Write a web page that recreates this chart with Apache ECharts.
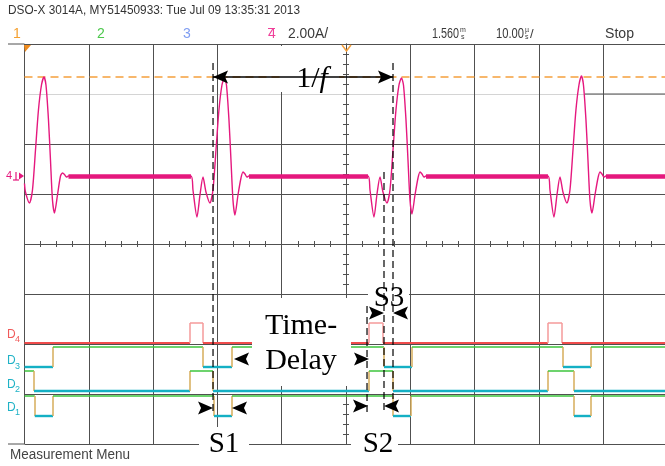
<!DOCTYPE html>
<html>
<head>
<meta charset="utf-8">
<script src="https://cdn.jsdelivr.net/npm/echarts/dist/echarts.min.js"></script>
<style>
  html, body { margin: 0; padding: 0; background: #fff; }
  #c { width: 665px; height: 466px; }
</style>
</head>
<body>
<div id="c"></div>
<script>
// ---- Scope settings: 10 us/div horizontally, channel 4 at 2.00 A/div ----
const timeRange = [-50, 50];          // us, 10 divisions
const divRange = [-4, 4];             // 8 vertical divisions
const ampsPerDiv = 2;
const ch4ZeroDiv = 1.36;              // channel 4 ground marker, divisions above centre

// ---- Channel 4 current trace (time in us, current in A) ----
const ch4Time = [
  -50.00, -49.85, -49.23, -48.76, -48.29, -47.83, -47.36, -46.97, -46.66, -46.27,
  -45.96, -45.65, -45.34, -44.87, -44.40, -44.09, -43.78, -43.47, -43.16,
  -24.11, -23.80, -23.18, -22.71, -22.24, -21.78, -21.16, -20.69, -20.22, -19.76,
  -19.29, -18.90, -18.59, -18.20, -17.89, -17.58, -17.27, -16.80, -16.33, -16.02,
  -15.71, -15.40, -15.09,
  3.42, 3.73, 4.35, 4.82, 5.29, 5.75, 6.37, 6.84, 7.31, 7.77,
  8.24, 8.63, 8.94, 9.33, 9.64, 9.95, 10.26, 10.73, 11.20, 11.51,
  11.82, 12.13, 12.44,
  31.41, 31.72, 32.34, 32.81, 33.28, 33.74, 34.36, 34.83, 35.30, 35.76,
  36.23, 36.62, 36.93, 37.32, 37.63, 37.94, 38.25, 38.72, 39.19, 39.50,
  39.81, 40.12, 40.43,
  50.00
];
const ch4Amps = [
  -0.30, -0.64, -1.08, -0.56, 1.04, 2.64, 3.64, 3.96, 3.64, 2.24,
  0.64, -0.96, -1.48, -0.76, 0.00, 0.12, 0.06, -0.04, 0.00,
  0.00, -0.56, -1.64, -0.76, -0.04, -0.64, -1.08, -0.56, 1.04, 2.64,
  3.64, 3.92, 3.64, 2.24, 0.64, -0.96, -1.56, -0.76, -0.08, 0.16,
  0.08, -0.04, 0.00,
  0.00, -0.56, -1.64, -0.72, -0.04, -0.64, -1.08, -0.56, 1.04, 2.64,
  3.64, 3.92, 3.64, 2.24, 0.64, -0.96, -1.52, -0.76, -0.08, 0.16,
  0.08, -0.04, 0.00,
  0.00, -0.56, -1.64, -0.76, -0.04, -0.64, -1.08, -0.56, 1.04, 2.64,
  3.64, 4.00, 3.64, 2.24, 0.64, -0.96, -1.48, -0.76, -0.08, 0.16,
  0.08, -0.04, 0.00,
  0.00
];
const cursorAmps = 3.96;              // horizontal cursor at the current peak

// ---- Digital gate signals: state at the left edge and edge times (us) ----
const d1Start = 1;
const d1Edges = [-48.40, -45.57, -20.53, -17.73, 7.31, 10.11, 35.46, 38.10];
const d2Start = 1;
const d2Edges = [-48.52, -24.26, -20.68, 3.58, 7.31, 31.40, 35.46];
const d3Start = 0;
const d3Edges = [-45.57, -22.24, -17.73, 5.91, 10.26, 33.75, 38.10];
const d4Start = 0;
const d4Edges = [-24.26, -22.24, 3.58, 5.75, 31.40, 33.60];

// ---- Lane placement of the digital channels (divisions) ----
const laneLow = { D1: -3.44, D2: -2.94, D3: -2.46, D4: -1.98 };
const laneHeight = 0.40;

// ---- Colours ----
const gridColor = '#505050';
const ch4Color = '#e5187e';
const cursorColor = '#f5a03c';
const hiColor = '#3cc43c';
const loColor = '#14b0c4';
const edgeColor = '#d6ad5a';
const d4Color = '#f04c4c';
const d4PulseColor = '#f59a9a';

function laneSegments(name, startState, edges, style) {
  const low = laneLow[name], high = low + laneHeight;
  const segs = [];
  let state = startState, t0 = timeRange[0];
  const stops = edges.concat([timeRange[1]]);
  stops.forEach((t, i) => {
    const lvl = state ? high : low;
    segs.push({ coords: [[t0, lvl], [t, lvl]],
      lineStyle: { color: state ? style.hi : style.lo, width: state ? style.hiW : style.loW, opacity: 1 } });
    if (i < edges.length) {
      segs.push({ coords: [[t, low], [t, high]], lineStyle: { color: style.edge, width: 1.5, opacity: 1 } });
      state = 1 - state;
    }
    t0 = t;
  });
  return segs;
}

const gateStyle = { hi: hiColor, lo: loColor, edge: edgeColor, hiW: 1.5, loW: 2.4 };
const d4Style = { hi: d4PulseColor, lo: d4Color, edge: d4PulseColor, hiW: 1.5, loW: 2.2 };
const digitalData = []
  .concat(laneSegments('D1', d1Start, d1Edges, gateStyle))
  .concat(laneSegments('D2', d2Start, d2Edges, gateStyle))
  .concat(laneSegments('D3', d3Start, d3Edges, gateStyle))
  .concat(laneSegments('D4', d4Start, d4Edges, d4Style));

const ch4Data = ch4Time.map((t, i) => [t, ch4Amps[i]]);
// flat stretches between pulses are drawn heavier (acquisition noise band)
const ch4Flat = [];
for (let i = 0; i + 1 < ch4Time.length; i++) {
  if (ch4Amps[i] === 0 && ch4Amps[i + 1] === 0 && ch4Time[i + 1] - ch4Time[i] > 1) {
    ch4Flat.push({ coords: [[ch4Time[i], 0], [ch4Time[i + 1], 0]] });
  }
}

const ampMin = (divRange[0] - ch4ZeroDiv) * ampsPerDiv;
const ampMax = (divRange[1] - ch4ZeroDiv) * ampsPerDiv;

const splitColors = [];
for (let v = divRange[0]; v <= divRange[1]; v++) splitColors.push(v === 3 ? '#d4d4d4' : gridColor);

function centerAxisX(inside) {
  return {
    type: 'value', min: timeRange[0], max: timeRange[1], interval: 2.5,
    axisLine: { show: true, onZero: true, onZeroAxisIndex: 0, lineStyle: { color: gridColor, width: 1 } },
    axisTick: { show: true, inside: inside, length: 3, lineStyle: { color: gridColor } },
    axisLabel: { show: false }, splitLine: { show: false }
  };
}
function centerAxisY(inside) {
  return {
    type: 'value', min: divRange[0], max: divRange[1], interval: 0.2,
    axisLine: { show: true, onZero: true, onZeroAxisIndex: 0, lineStyle: { color: gridColor, width: 1 } },
    axisTick: { show: true, inside: inside, length: 3, lineStyle: { color: gridColor } },
    axisLabel: { show: false }, splitLine: { show: false }
  };
}

const chart = echarts.init(document.getElementById('c'));
chart.setOption({
  animation: false,
  backgroundColor: '#ffffff',
  grid: { left: 24.5, top: 44, width: 643, height: 400, containLabel: false, outerBoundsMode: 'none' },
  xAxis: [
    { type: 'value', min: timeRange[0], max: timeRange[1], interval: 10,
      axisLine: { show: false }, axisTick: { show: false }, axisLabel: { show: false },
      splitLine: { show: true, lineStyle: { color: gridColor, width: 1 } } },
    centerAxisX(true),
    centerAxisX(false)
  ],
  yAxis: [
    { type: 'value', min: divRange[0], max: divRange[1], interval: 1,
      axisLine: { show: false }, axisTick: { show: false }, axisLabel: { show: false },
      splitLine: { show: true, lineStyle: { color: splitColors, width: 1 } } },
    { type: 'value', min: ampMin, max: ampMax, show: false },
    centerAxisY(true),
    centerAxisY(false)
  ],
  series: [
    { type: 'lines', coordinateSystem: 'cartesian2d', xAxisIndex: 0, yAxisIndex: 0,
      data: digitalData, silent: true, z: 3, lineStyle: { opacity: 1 } },
    { type: 'lines', coordinateSystem: 'cartesian2d', xAxisIndex: 0, yAxisIndex: 1,
      data: ch4Flat, silent: true, z: 4,
      lineStyle: { color: ch4Color, width: 4.5, opacity: 1 } },
    { type: 'line', xAxisIndex: 0, yAxisIndex: 1, data: ch4Data,
      showSymbol: false, smooth: 0.25, silent: true, z: 5,
      lineStyle: { color: ch4Color, width: 1.4 },
      markLine: {
        silent: true, symbol: 'none', label: { show: false },
        lineStyle: { color: cursorColor, type: [8, 5], width: 1.6 },
        data: [{ yAxis: cursorAmps }]
      } }
  ]
});

// ---- Overlay: screen labels and timing annotations ----
const X = t => chart.convertToPixel({ xAxisIndex: 0 }, t);
const YA = a => chart.convertToPixel({ yAxisIndex: 1 }, a);
const measureCtx = document.createElement('canvas').getContext('2d');
const sans = '"Liberation Sans", Arial, sans-serif';
const serif = '"Liberation Serif", "Times New Roman", serif';

function fitText(str, x, y, size, width, color) {
  measureCtx.font = size + 'px ' + sans;
  const w = measureCtx.measureText(str).width;
  return { type: 'text', x: x, y: y, scaleX: width / w, originX: 0, z: 80,
    style: { text: str, fontSize: size, fontFamily: sans, fill: color,
      textAlign: 'left', align: 'left', textVerticalAlign: 'middle', verticalAlign: 'middle' } };
}
function txt(str, x, y, size, color, family, extra) {
  return Object.assign({ type: 'text', x: x, y: y, z: 80,
    style: Object.assign({ text: str, fontSize: size, fontFamily: family || sans, fill: color,
      textAlign: 'left', align: 'left', textVerticalAlign: 'middle', verticalAlign: 'middle' }, extra || {}) });
}
function ctxt(str, x, y, size, extra) {
  return { type: 'text', x: x, y: y, z: 90,
    style: Object.assign({ text: str, fontSize: size, fontFamily: serif, fill: '#000',
      textAlign: 'center', align: 'center', textVerticalAlign: 'middle', verticalAlign: 'middle' }, extra || {}) };
}
function box(x1, y1, x2, y2) {
  return { type: 'rect', z: 70, shape: { x: x1, y: y1, width: x2 - x1, height: y2 - y1 },
    style: { fill: '#ffffff' } };
}
function dashed(x, y1, y2) {
  return { type: 'line', z: 75, shape: { x1: x, y1: y1, x2: x, y2: y2 },
    style: { stroke: '#000', lineWidth: 1.2, lineDash: [7, 4] } };
}
function head(tip, y, dir) {
  // dir = 1: points right, dir = -1: points left
  const L = 15, H = 6.5;
  return { type: 'polygon', z: 85,
    shape: { points: [[tip, y], [tip - dir * L, y - H], [tip - dir * (L - 3), y], [tip - dir * L, y + H]] },
    style: { fill: '#000' } };
}
function seg(x1, y1, x2, y2, color, w) {
  return { type: 'line', z: 78, shape: { x1: x1, y1: y1, x2: x2, y2: y2 },
    style: { stroke: color, lineWidth: w || 1 } };
}

const s1a = X(d2Edges[2]), s1b = X(d1Edges[3]);
const s2a = X(d4Edges[2]), s2b = X(d3Edges[3]);
const s3b = X(d2Edges[4]);
const yCur = YA(cursorAmps);
const yZero = YA(0);

const g = [];
// label backgrounds
g.push(box(252, 298, 351, 386));
g.push(box(368, 280, 409, 307));
g.push(box(199, 427, 249, 463));
g.push(box(351, 427, 398, 463));
// dashed markers
g.push(dashed(s1a, 63, 414));
g.push(dashed(s3b, 63, 399));
g.push(dashed(s2b, 172, 411));
g.push(dashed(s2a - 2, 306, 413));
// period arrow
g.push({ type: 'line', z: 76, shape: { x1: s1a, y1: yCur, x2: s3b, y2: yCur }, style: { stroke: '#000', lineWidth: 1.5 } });
g.push(box(281, 46, 339, 92));
g.push(head(s1a, yCur, -1), head(s3b, yCur, 1));
g.push(ctxt('{a|1/}{b|f}', 312, yCur + 2, 30, {
  rich: { a: { fontSize: 30, fontFamily: serif, fill: '#000' },
          b: { fontSize: 30, fontFamily: serif, fontStyle: 'italic', fill: '#000' } } }));
// time delay
g.push(head(s1b + 2, 359, -1), head(s2a, 359, 1));
g.push(ctxt('Time-', 301, 326, 30));
g.push(ctxt('Delay', 301, 361, 30));
// S1, S2, S3
g.push(head(s1a, 408, 1), head(s1b, 408, -1));
g.push(head(s2a - 1, 406, 1), head(s2b, 406, -1));
g.push(head(s2b, 313, 1), head(s3b, 313, -1));
g.push(ctxt('S1', 224, 444, 29));
g.push(ctxt('S2', 378, 444, 29));
g.push(ctxt('S3', 389, 298, 29));

// screen frame extensions
g.push(seg(8, 44, 24.5, 44, gridColor, 1));
g.push(seg(8, 444, 24.5, 444, gridColor, 1));
g.push(seg(585, 94, 665, 94, gridColor, 1));

// header
g.push(fitText('DSO-X 3014A, MY51450933: Tue Jul 09 13:35:31 2013', 8, 10, 13, 292, '#333'));
g.push(txt('1', 13, 34, 14, '#f5a030'));
g.push(txt('2', 97, 34, 14, '#4cc84c'));
g.push(txt('3', 183, 34, 14, '#7f9df2'));
g.push(txt('4', 268, 34, 14, '#f0409a'));
g.push(seg(268, 28.5, 275, 28.5, '#f0409a', 1));
g.push(fitText('2.00A/', 288, 34, 14, 40, '#3a3a3a'));
g.push(fitText('1.560', 432, 34, 14, 27, '#3a3a3a'));
g.push(txt('m', 460, 30, 7, '#3a3a3a'));
g.push(txt('s', 461, 37, 7, '#3a3a3a'));
g.push(fitText('10.00', 496, 34, 14, 28, '#3a3a3a'));
g.push(txt('\u00b5', 525, 30, 7, '#3a3a3a'));
g.push(txt('s', 525, 37, 7, '#3a3a3a'));
g.push(txt('/', 530, 34, 13, '#3a3a3a'));
g.push(fitText('Stop', 605, 34, 14, 29, '#3a3a3a'));
g.push(fitText('Measurement Menu', 10, 455, 14, 120, '#444'));

// trigger and reference markers
g.push({ type: 'polygon', z: 80, shape: { points: [[24, 45], [31, 45], [25, 52]] }, style: { fill: '#f08c1e' } });
g.push({ type: 'polyline', z: 80, shape: { points: [[342, 45], [346.5, 51], [351, 45]] },
  style: { stroke: '#f5a03c', lineWidth: 1.5, fill: null } });
// channel 4 ground marker
g.push(txt('4', 6, yZero, 11, ch4Color));
g.push(seg(16, yZero - 4, 16, yZero + 4, ch4Color, 1.2));
g.push(seg(13, yZero + 4, 19, yZero + 4, ch4Color, 1.2));
g.push({ type: 'polygon', z: 80, shape: { points: [[19, yZero - 3.5], [24, yZero], [19, yZero + 3.5]] }, style: { fill: ch4Color } });

// digital channel labels
const laneLabels = [['4', 335, 340, '#f05a5a'], ['3', 361, 367, '#1fb2c6'], ['2', 385, 390, '#1fb2c6'], ['1', 408, 413, '#1fb2c6']];
laneLabels.forEach(l => {
  g.push(txt('D', 7, l[1], 12, l[3]));
  g.push(txt(l[0], 15, l[2], 9, l[3]));
});

chart.setOption({ graphic: { elements: g } });
</script>
</body>
</html>
